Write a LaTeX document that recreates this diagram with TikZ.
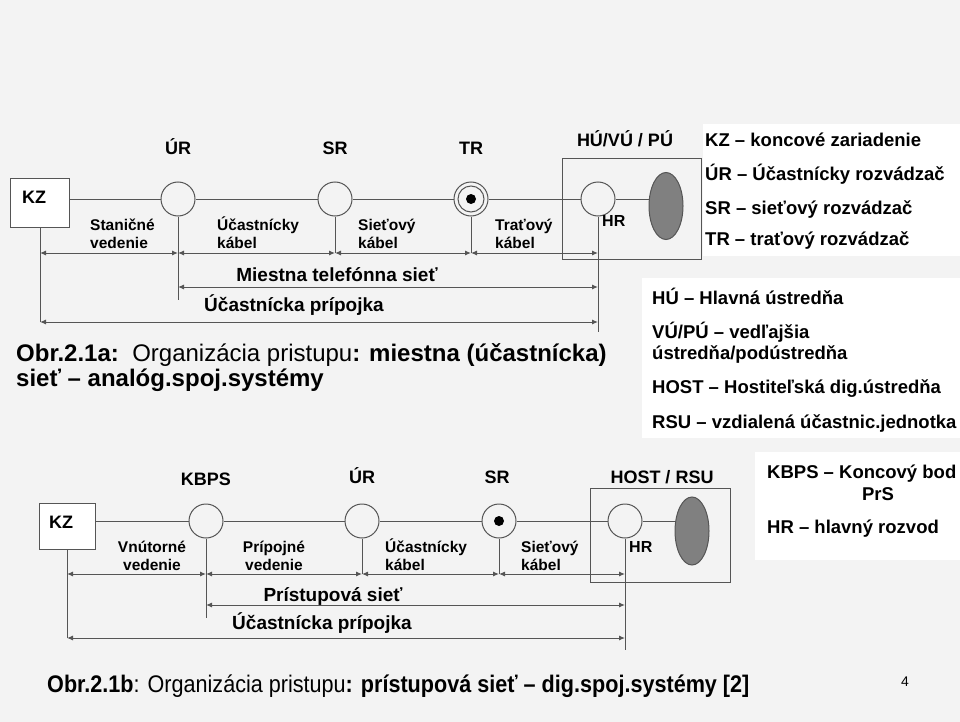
\documentclass[tikz,border=0pt]{standalone}
\usepackage{graphicx}
\usepackage{fontspec}
\setmainfont{Liberation Sans}
\usetikzlibrary{arrows.meta,shapes.geometric}
\definecolor{bgc}{RGB}{243,243,243}
\definecolor{lnc}{RGB}{85,85,85}
\definecolor{elc}{RGB}{128,128,128}
\begin{document}
\begin{tikzpicture}[x=1pt,y=-1pt,
  ln/.style={draw=lnc,line width=1pt},
  arr/.style={draw=lnc,line width=1pt,{Latex[length=6pt,width=5pt]}-{Latex[length=6pt,width=5pt]}},
  circ/.style={circle,draw=lnc,line width=1pt,minimum size=34pt,inner sep=0pt},
  kzbox/.style={rectangle,draw=lnc,line width=1pt,fill=white,inner sep=0pt},
  frame/.style={rectangle,draw=lnc,line width=1pt,inner sep=0pt},
  oval/.style={ellipse,draw=lnc,line width=1pt,fill=elc,minimum width=34pt,minimum height=67pt,inner sep=0pt},
  dotc/.style={circle,fill=black,minimum size=10pt,inner sep=0pt},
  ringc/.style={circle,draw=lnc,line width=1pt,minimum size=26pt,inner sep=0pt},
  lbl/.style={font=\bfseries\fontsize{18}{20}\selectfont,inner sep=0pt,anchor=base},
  hrl/.style={font=\bfseries\fontsize{16}{18}\selectfont,inner sep=0pt,anchor=base west},
  seg/.style={font=\bfseries\fontsize{15.5}{18}\selectfont,align=left,inner sep=0pt,anchor=base west},
  big/.style={font=\bfseries\fontsize{19}{20}\selectfont,inner sep=0pt,anchor=base},
  leg/.style={font=\bfseries\fontsize{18.5}{20}\selectfont,inner sep=0pt,anchor=base west},
  captxt/.style={font=\fontsize{24}{26}\selectfont,inner sep=0pt,anchor=base west}]
\fill[bgc] (0,0) rectangle (960,722);
\useasboundingbox (0,0) rectangle (960,722);
\fill[white] (703,124) rectangle (960,256);
\fill[white] (642,278) rectangle (960,438);
\fill[white] (755,452) rectangle (960,560);

% ---------- top diagram ----------
\node[frame,minimum width=139pt,minimum height=100pt] (hu1) at (631.5,209) {};
\node[kzbox,minimum width=59pt,minimum height=48pt] (kz1) at (40,203) {};
\node[lbl,anchor=base west] (kz1t) at (22,203) {KZ};
\node[circ] (ur1) at (178,199) {};
\node[circ] (sr1) at (335,199) {};
\node[circ] (tr1) at (471,199) {};
\node[ringc] (tr1r) at (471,199) {};
\node[dotc] (tr1d) at (471,199) {};
\node[circ] (hr1) at (598,199) {};
\node[oval] (el1) at (666,206) {};

\node[lbl] (ur1l) at (178,155) {ÚR};
\node[lbl] (sr1l) at (335,155) {SR};
\node[lbl] (tr1l) at (471,155) {TR};
\node[lbl] (hu1l) at (625,147) {HÚ/VÚ / PÚ};
\node[hrl] (hr1l) at (602,226) {HR};

\draw[ln] (kz1.east |- ur1) -- (ur1);
\draw[ln] (ur1) -- (sr1);
\draw[ln] (sr1) -- (tr1);
\draw[ln] (tr1) -- (hr1);
\draw[ln] (hr1) -- (hr1 -| el1.west);

\coordinate (k1b) at (40,322);
\coordinate (u1b) at (178,300);
\coordinate (s1b) at (335,253);
\coordinate (t1b) at (471,253);
\coordinate (h1b) at (598,332);
\draw[ln] (kz1.south) -- (k1b);
\draw[ln] (ur1.south) -- (u1b);
\draw[ln] (sr1.south) -- (s1b);
\draw[ln] (tr1.south) -- (t1b);
\draw[ln] (hr1.south) -- (h1b);

\draw[arr] (k1b |- s1b) -- (u1b |- s1b);
\draw[arr] (u1b |- s1b) -- (s1b);
\draw[arr] (s1b) -- (t1b);
\draw[arr] (t1b) -- (h1b |- t1b);
\draw[arr] (u1b |- 0,287) -- (h1b |- 0,287);
\draw[arr] (k1b) -- (h1b |- k1b);

\node[seg] (sega) at (90,248) {Staničné\\vedenie};
\node[seg] (segb) at (217,248) {Účastnícky\\kábel};
\node[seg] (segc) at (358,248) {Sieťový\\kábel};
\node[seg] (segd) at (495,248) {Traťový\\kábel};
\node[big] (mts) at (337,281) {Miestna telefónna sieť};
\node[big] (up1) at (294,311) {Účastnícka prípojka};

% ---------- legends ----------
\node[leg] (lg1) at (705,147) {KZ – koncové zariadenie};
\node[leg] (lg2) at (705,181) {ÚR – Účastnícky rozvádzač};
\node[leg] (lg3) at (705,214) {SR – sieťový rozvádzač};
\node[leg] (lg4) at (705,245) {TR – traťový rozvádzač};
\node[leg] (lg5) at (652,304) {HÚ – Hlavná ústredňa};
\node[leg] (lg6) at (652,338) {VÚ/PÚ – vedľajšia};
\node[leg] (lg7) at (652,359) {ústredňa/podústredňa};
\node[leg] (lg8) at (652,393) {HOST – Hostiteľská dig.ústredňa};
\node[leg] (lg9) at (652,428) {RSU – vzdialená účastnic.jednotka};
\node[leg] (lg10) at (767,478) {KBPS – Koncový bod};
\node[leg,anchor=base] (lg11) at (878,500) {PrS};
\node[leg] (lg12) at (767,533) {HR – hlavný rozvod};

% ---------- caption a ----------
\node[captxt] (capa1) at (16,361) {\textbf{Obr.2.1a:}\ \ Organizácia pristupu\textbf{: miestna (účastnícka)}};
\node[captxt] (capa2) at (16,386) {\textbf{sieť – analóg.spoj.systémy}};

% ---------- bottom diagram ----------
\node[frame,minimum width=140pt,minimum height=94pt] (host) at (660,535) {};
\node[kzbox,minimum width=56pt,minimum height=46pt] (kz2) at (67,526) {};
\node[lbl,anchor=base west] (kz2t) at (49,528) {KZ};
\node[circ] (kb2) at (206,521) {};
\node[circ] (ur2) at (362,521) {};
\node[circ] (sr2) at (499,521) {};
\node[dotc] (sr2d) at (499,521) {};
\node[circ] (hr2) at (625,521) {};
\node[oval,minimum height=68pt] (el2) at (692,531) {};

\node[lbl] (kb2l) at (206,485) {KBPS};
\node[lbl] (ur2l) at (362,483) {ÚR};
\node[lbl] (sr2l) at (497,483) {SR};
\node[lbl] (hostl) at (662,483) {HOST / RSU};
\node[hrl] (hr2l) at (629,552) {HR};

\draw[ln] (kz2.east |- kb2) -- (kb2);
\draw[ln] (kb2) -- (ur2);
\draw[ln] (ur2) -- (sr2);
\draw[ln] (sr2) -- (hr2);
\draw[ln] (hr2) -- (hr2 -| el2.west);

\coordinate (k2b) at (67,638);
\coordinate (b2b) at (206,618);
\coordinate (u2b) at (362,574);
\coordinate (s2b) at (499,574);
\coordinate (h2b) at (625,650);
\draw[ln] (kz2.south) -- (k2b);
\draw[ln] (kb2.south) -- (b2b);
\draw[ln] (ur2.south) -- (u2b);
\draw[ln] (sr2.south) -- (s2b);
\draw[ln] (hr2.south) -- (h2b);

\draw[arr] (k2b |- u2b) -- (b2b |- u2b);
\draw[arr] (b2b |- u2b) -- (u2b);
\draw[arr] (u2b) -- (s2b);
\draw[arr] (s2b) -- (h2b |- s2b);
\draw[arr] (b2b |- 0,605) -- (h2b |- 0,605);
\draw[arr] (k2b) -- (h2b |- k2b);

\node[seg,align=center,anchor=base] (sege) at (152,570) {Vnútorné\\vedenie};
\node[seg,align=center,anchor=base] (segf) at (274,570) {Prípojné\\vedenie};
\node[seg] (segg) at (385,570) {Účastnícky\\kábel};
\node[seg] (segh) at (521,570) {Sieťový\\kábel};
\node[big] (pss) at (333,601) {Prístupová sieť};
\node[big] (up2) at (322,629) {Účastnícka prípojka};

% ---------- caption b ----------
\node[captxt] (capb) at (47,692) {\scalebox{0.9}[1]{\textbf{Obr.2.1b}: Organizácia pristupu\textbf{: prístupová sieť – dig.spoj.systémy [2]}}};
\node[font=\fontsize{14}{16}\selectfont,inner sep=0pt,anchor=base] (pg) at (905,686) {4};
\end{tikzpicture}
\end{document}
